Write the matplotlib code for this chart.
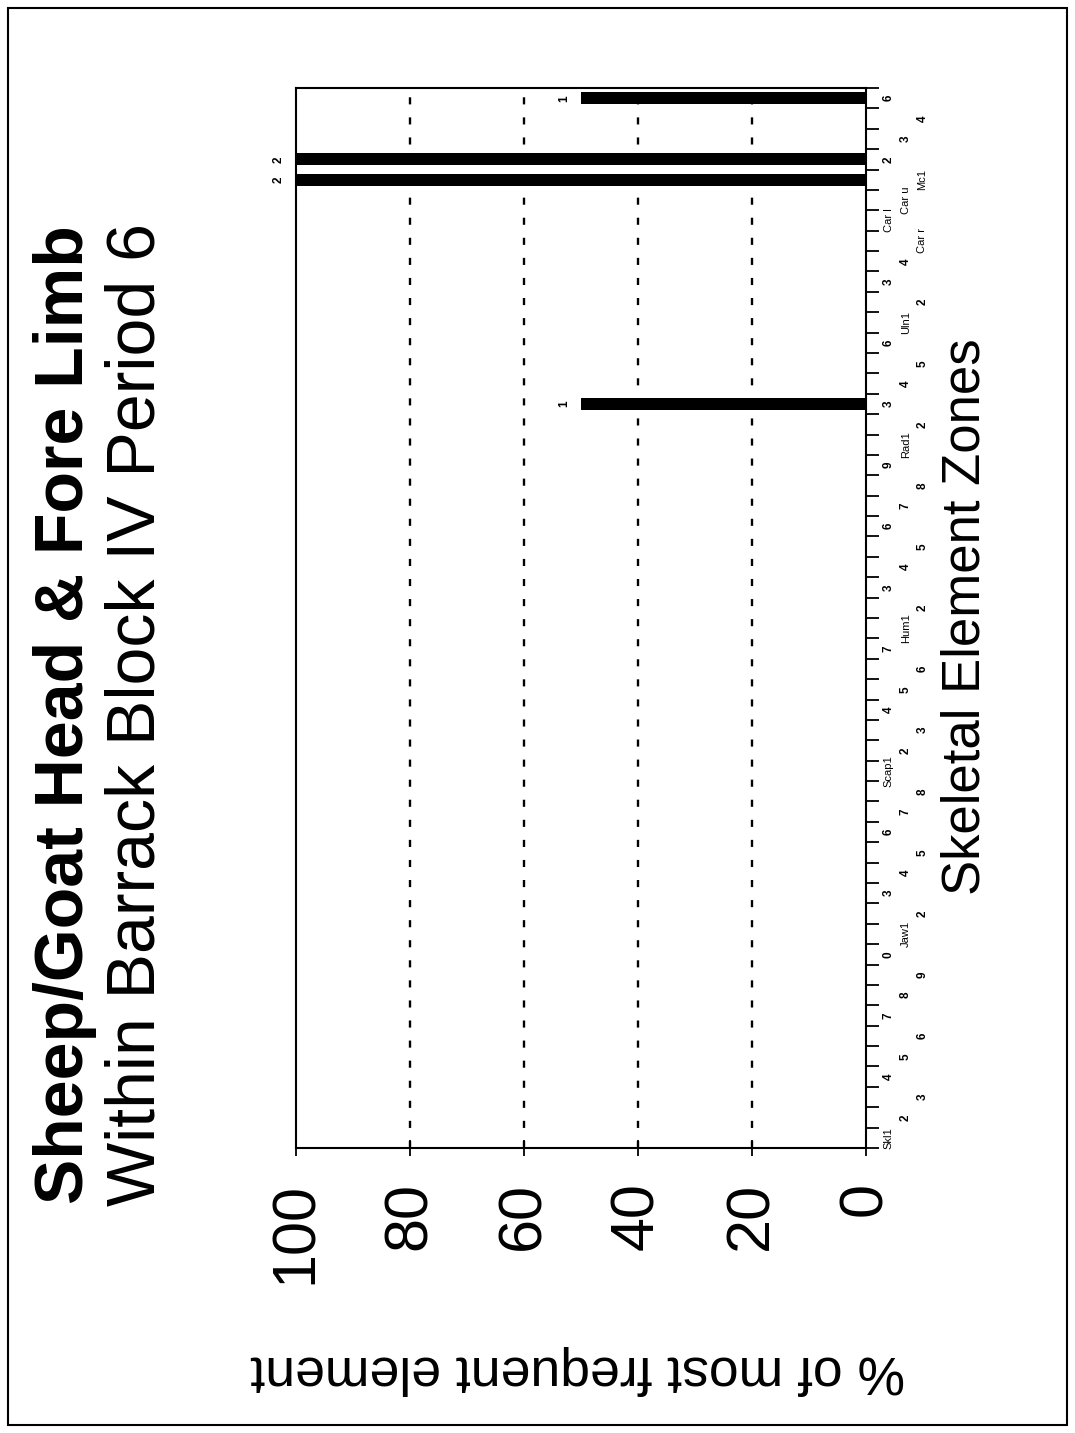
import matplotlib
matplotlib.use("Agg")
import matplotlib.pyplot as plt
from matplotlib.patches import Rectangle
import numpy as np

plt.rcParams['font.family'] = ['Liberation Sans', 'DejaVu Sans']

#%%
###### DATA #######
zone_labels = ['Skl1', '2', '3', '4', '5', '6', '7', '8', '9', '0',
               'Jaw1', '2', '3', '4', '5', '6', '7', '8',
               'Scap1', '2', '3', '4', '5', '6', '7',
               'Hum1', '2', '3', '4', '5', '6', '7', '8', '9',
               'Rad1', '2', '3', '4', '5', '6',
               'Uln1', '2', '3', '4',
               'Car r', 'Car l', 'Car u',
               'Mc1', '2', '3', '4', '6']

# % of most frequent element, one per zone
pct = [0] * 52
pct[36] = 50     # Rad 3
pct[47] = 100    # Mc1
pct[48] = 100    # Mc 2
pct[51] = 50     # Mc top zone

# counts written at the bar ends
counts = [0] * 52
counts[36] = 1
counts[47] = 2
counts[48] = 2
counts[51] = 1

pct_ticks = [0, 20, 40, 60, 80, 100]
grid_vals = [20, 40, 60, 80]

#%%
fig = plt.figure(figsize=(10.75, 14.33), dpi=100)
ax = fig.add_axes([296/1075, 1 - 1148/1433, 570/1075, 1060/1433])

pos = np.arange(len(zone_labels))
ax.barh(pos, pct, height=0.6, color='black', zorder=3)

for g in grid_vals:
    ax.axvline(g, color='black', lw=1.7, linestyle=(0, (3.0, 5.5)), zorder=1)

ax.set_xlim(100, 0)
ax.set_ylim(-0.5, len(zone_labels) - 0.5)

ax.set_xticks(pct_ticks)
ax.set_xticklabels([str(v) for v in pct_ticks])
ax.tick_params(axis='x', labelrotation=90, labelsize=44, direction='inout',
               length=11, width=1.3, pad=19)

ax.yaxis.tick_right()
ax.set_yticks(np.arange(len(zone_labels) + 1) - 0.5)
ax.set_yticklabels([])
ax.tick_params(axis='y', direction='out', length=9, width=1.3)

for s in ax.spines.values():
    s.set_linewidth(1.5)

# zone labels in three staggered columns
cols = [1.040, 1.070, 1.099]
tr = ax.get_yaxis_transform()
for i, lab in enumerate(zone_labels):
    if lab[0].isdigit():
        ax.text(cols[i % 3], i, lab, transform=tr, rotation=90, ha='center',
                va='center', fontsize=8.5, fontweight='bold', clip_on=False)
    else:
        ax.text(cols[i % 3], i, lab, transform=tr, rotation=90, ha='center',
                va='center', fontsize=8, clip_on=False)

# counts at the bar ends
for i, (v, c) in enumerate(zip(pct, counts)):
    if c > 0:
        ax.text(v + 3, i, str(c), rotation=90, ha='center', va='center',
                fontsize=8.5, fontweight='bold', clip_on=False)

#%%
fig.text(65/1075, 1 - 715/1433, 'Sheep/Goat Head & Fore Limb', rotation=90,
         ha='center', va='center', fontsize=49, fontweight='bold')
fig.text(137/1075, 1 - 715/1433, 'Within Barrack Block IV Period 6', rotation=90,
         ha='center', va='center', fontsize=49)
fig.text(965/1075, 1 - 617/1433, 'Skeletal Element Zones', rotation=90,
         ha='center', va='center', fontsize=38)
fig.text(578/1075, 1 - 1370/1433, '% of most frequent element', rotation=180,
         ha='center', va='center', fontsize=38.5)

fig.add_artist(Rectangle((8/1075, 1 - 1425/1433), 1059/1075, 1417/1433,
                         transform=fig.transFigure, fill=False, lw=1.5,
                         edgecolor='black'))

fig.savefig('out.png', dpi=100, facecolor='white')
